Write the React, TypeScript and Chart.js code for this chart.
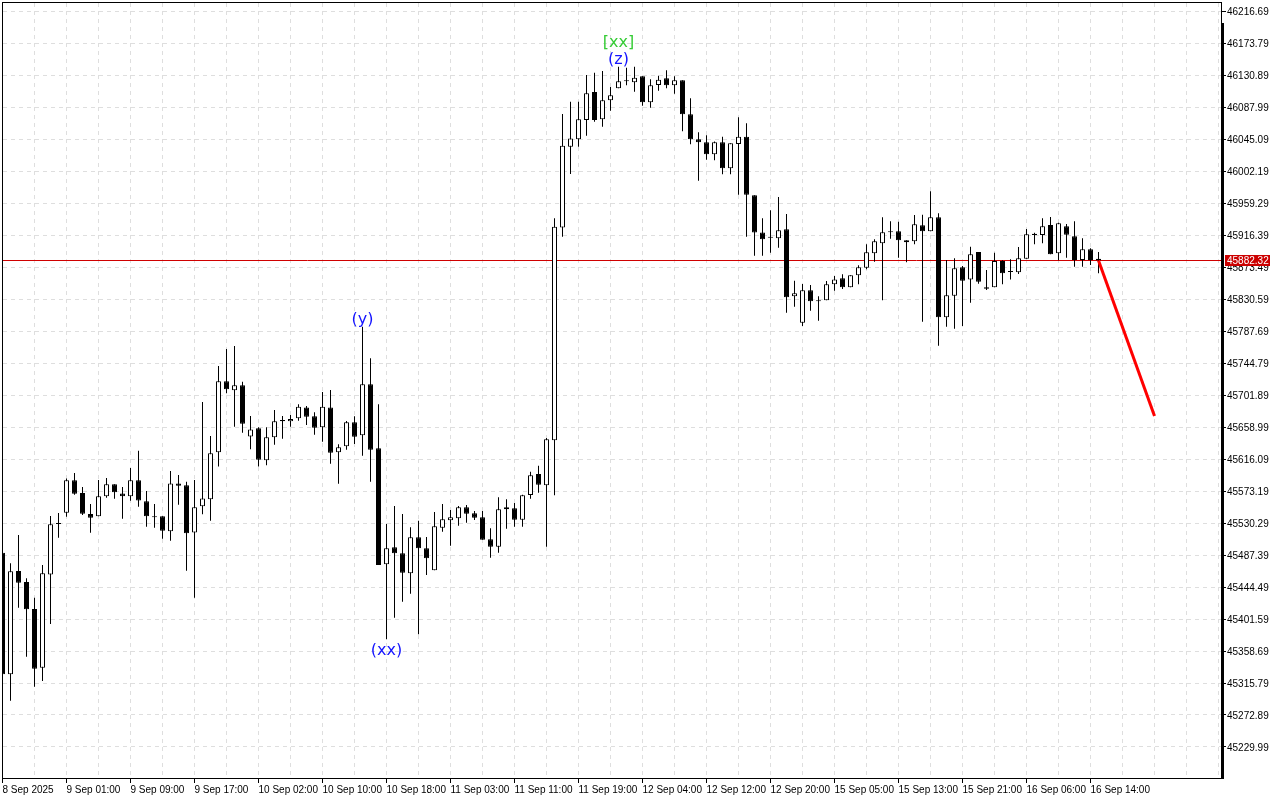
import React, { useEffect, useRef } from 'react';
import { Chart, registerables } from 'chart.js';

Chart.register(...registerables);

// ---- OHLC data (hourly candles, index 0 = 8 Sep 2025 17:00) ----
const opens = [
  45490.5, 45327.4, 45465.9, 45451.2, 45415.0, 45336.3, 45461.4, 45528.9, 45544.1, 45587.5,
  45570.5, 45542.3, 45539.2, 45566.0, 45582.1, 45570.0, 45566.0, 45587.5, 45559.3, 45537.9,
  45539.2, 45519.1, 45583.4, 45580.8, 45517.7, 45552.6, 45562.0, 45625.0, 45720.2, 45708.1,
  45714.8, 45646.4, 45657.2, 45614.3, 45645.1, 45668.4, 45666.6, 45670.6, 45685.3, 45673.3,
  45658.5, 45685.3, 45625.0, 45633.1, 45665.3, 45647.8, 45716.2, 45630.4, 45474.9, 45497.7,
  45489.6, 45462.8, 45511.1, 45496.3, 45466.8, 45524.0, 45533.9, 45536.5, 45551.3, 45543.3,
  45537.9, 45508.4, 45498.6, 45548.6, 45549.9, 45534.8, 45567.8, 45596.0, 45580.8, 45641.1,
  45926.6, 46034.8, 46044.6, 46070.6, 46108.1, 46071.5, 46096.9, 46113.0, 46123.7, 46121.1,
  46129.1, 46094.2, 46117.5, 46126.4, 46117.0, 46123.7, 46078.2, 46044.6, 46040.6, 46024.5,
  46040.6, 46005.8, 46038.4, 46048.2, 45969.6, 45919.9, 45912.8, 45911.9, 45924.0, 45834.2,
  45798.9, 45842.2, 45828.8, 45828.8, 45850.3, 45858.3, 45846.2, 45862.3, 45872.6, 45891.8,
  45905.2, 45920.0, 45921.3, 45909.2, 45907.9, 45929.3, 45921.3, 45940.1, 45806.0, 45835.1,
  45873.0, 45856.9, 45893.6, 45846.2, 45846.2, 45881.5, 45866.8, 45866.3, 45884.7, 45918.2,
  45916.4, 45929.8, 45891.8, 45928.0, 45914.6, 45882.9, 45897.2, 45884.7,
];

const highs = [
  45497.0, 45476.2, 45514.2, 45456.1, 45430.2, 45474.0, 45539.6, 45543.7, 45590.1, 45597.3,
  45578.5, 45555.7, 45587.9, 45590.6, 45582.1, 45578.5, 45604.0, 45627.2, 45573.2, 45555.7,
  45539.2, 45600.0, 45594.6, 45585.7, 45587.9, 45692.5, 45646.9, 45740.7, 45763.5, 45767.5,
  45719.7, 45673.7, 45658.5, 45658.5, 45681.7, 45673.7, 45675.1, 45689.4, 45687.1, 45678.6,
  45705.9, 45708.6, 45635.8, 45667.0, 45673.3, 45793.5, 45751.0, 45689.4, 45528.9, 45553.1,
  45542.4, 45524.5, 45533.4, 45511.5, 45545.0, 45555.8, 45547.7, 45553.1, 45554.4, 45546.4,
  45546.4, 45523.1, 45564.7, 45562.0, 45557.1, 45568.3, 45599.1, 45607.2, 45644.2, 45938.7,
  46078.6, 46095.1, 46095.1, 46130.9, 46134.0, 46136.2, 46114.8, 46142.1, 46140.7, 46142.1,
  46129.1, 46125.1, 46130.0, 46137.1, 46129.1, 46123.7, 46099.6, 46054.0, 46050.0, 46041.9,
  46048.2, 46039.3, 46074.1, 46066.1, 45969.6, 45938.7, 45949.5, 45967.3, 45944.5, 45855.2,
  45850.7, 45849.4, 45834.2, 45854.7, 45861.4, 45863.7, 45862.3, 45875.7, 45903.9, 45910.6,
  45940.1, 45934.7, 45934.3, 45909.2, 45943.2, 45943.7, 45974.9, 45945.4, 45882.9, 45885.1,
  45874.8, 45900.8, 45893.6, 45869.5, 45892.7, 45882.4, 45883.8, 45900.3, 45924.4, 45919.5,
  45938.7, 45940.5, 45932.9, 45931.1, 45934.7, 45911.9, 45898.5, 45893.6,
];

const lows = [
  45300.0, 45292.1, 45416.8, 45351.1, 45310.8, 45318.4, 45394.9, 45510.6, 45538.7, 45568.2,
  45541.0, 45517.3, 45539.2, 45564.2, 45562.9, 45536.1, 45560.2, 45552.2, 45525.3, 45524.0,
  45509.3, 45506.6, 45554.8, 45466.4, 45430.2, 45541.9, 45533.4, 45606.2, 45704.1, 45659.4,
  45651.4, 45629.0, 45606.2, 45607.6, 45635.3, 45643.3, 45659.4, 45667.5, 45661.7, 45648.7,
  45639.3, 45609.8, 45583.0, 45628.6, 45636.2, 45620.6, 45585.7, 45474.0, 45374.3, 45403.4,
  45424.8, 45435.6, 45381.0, 45460.6, 45466.8, 45518.7, 45499.9, 45526.7, 45530.7, 45534.3,
  45507.9, 45483.8, 45490.5, 45522.7, 45525.4, 45525.4, 45562.9, 45570.9, 45498.6, 45567.4,
  45914.1, 45998.2, 46034.8, 46049.6, 46068.3, 46061.6, 46083.1, 46113.0, 46117.0, 46108.5,
  46089.8, 46087.1, 46109.9, 46113.0, 46105.9, 46055.4, 46037.9, 45989.2, 46017.4, 46016.5,
  45997.7, 45997.7, 45970.5, 45914.1, 45888.7, 45888.7, 45892.7, 45899.4, 45812.3, 45820.3,
  45794.4, 45814.9, 45801.6, 45828.8, 45841.8, 45844.0, 45846.2, 45850.3, 45870.4, 45880.6,
  45828.8, 45911.5, 45886.0, 45879.8, 45903.9, 45800.2, 45921.3, 45768.0, 45793.5, 45790.8,
  45794.4, 45825.7, 45851.1, 45842.7, 45846.2, 45850.3, 45856.9, 45864.1, 45884.7, 45903.9,
  45905.2, 45890.5, 45882.4, 45886.0, 45873.9, 45873.9, 45876.2, 45865.0,
];

const closes = [
  45327.4, 45465.5, 45450.3, 45414.5, 45335.0, 45462.8, 45528.5, 45528.9, 45587.5, 45569.6,
  45542.8, 45537.4, 45566.0, 45582.1, 45571.4, 45566.0, 45587.5, 45560.6, 45539.2, 45537.9,
  45520.0, 45583.4, 45580.3, 45516.4, 45551.3, 45563.3, 45623.7, 45720.2, 45709.5, 45714.8,
  45663.4, 45655.8, 45615.2, 45645.1, 45666.6, 45666.6, 45669.7, 45686.3, 45672.8, 45658.1,
  45686.3, 45624.6, 45631.7, 45665.3, 45646.0, 45716.2, 45628.6, 45474.0, 45496.3, 45489.6,
  45463.7, 45511.1, 45496.3, 45482.9, 45525.8, 45535.2, 45537.9, 45551.3, 45542.8, 45537.4,
  45507.9, 45498.6, 45548.6, 45551.3, 45534.8, 45567.4, 45594.2, 45581.7, 45642.5, 45927.5,
  46036.1, 46045.9, 46071.5, 46106.3, 46070.6, 46096.9, 46103.6, 46122.4, 46122.4, 46127.3,
  46094.2, 46117.0, 46124.6, 46117.0, 46123.7, 46078.2, 46044.6, 46040.6, 46024.5, 46040.6,
  46005.8, 46039.3, 46048.2, 45970.5, 45919.9, 45910.6, 45912.8, 45922.6, 45832.8, 45838.2,
  45842.2, 45827.5, 45827.5, 45850.3, 45856.9, 45846.2, 45862.3, 45873.0, 45893.2, 45907.9,
  45920.0, 45920.0, 45909.2, 45906.6, 45930.7, 45921.3, 45940.1, 45806.0, 45835.5, 45871.7,
  45855.2, 45890.5, 45853.8, 45844.4, 45881.5, 45865.0, 45866.8, 45885.1, 45917.3, 45916.4,
  45928.0, 45890.5, 45932.0, 45916.8, 45882.9, 45897.2, 45882.9, 45882.32,
];

// x-axis labels, one every 8 candles starting at candle 0
const xTickLabels = [
  '8 Sep 2025', '9 Sep 01:00', '9 Sep 09:00', '9 Sep 17:00', '10 Sep 02:00', '10 Sep 10:00',
  '10 Sep 18:00', '11 Sep 03:00', '11 Sep 11:00', '11 Sep 19:00', '12 Sep 04:00', '12 Sep 12:00',
  '12 Sep 20:00', '15 Sep 05:00', '15 Sep 13:00', '15 Sep 21:00', '16 Sep 06:00', '16 Sep 14:00',
];

const yTickValues = [
  46216.69, 46173.79, 46130.89, 46087.99, 46045.09, 46002.19, 45959.29, 45916.39,
  45873.49, 45830.59, 45787.69, 45744.79, 45701.89, 45658.99, 45616.09, 45573.19,
  45530.29, 45487.39, 45444.49, 45401.59, 45358.69, 45315.79, 45272.89, 45229.99,
];

const lastPrice = 45882.32;

// forecast arrow (red)
const forecastX = [137, 144];
const forecastY = [45882.32, 45673.7];

// wave labels
const waveTexts = ['(y)', '(xx)', '[xx]', '(z)'];
const waveX = [45, 48, 77, 77];
const waveY = [45805.1, 45361.4, 46176.5, 46153.7];
const waveColors = ['#1414ff', '#1414ff', '#36cc36', '#1414ff'];

const X_MIN = 0.0625;
const X_MAX = 152.3125;
const Y_MIN = 45188.43;
const Y_MAX = 46227.42;

const FONT = '"Liberation Sans", Arial, sans-serif';
const GRID = '#dedede';

const decorPlugin = {
  id: 'mtDecor',
  beforeDatasetsDraw(chart: any) {
    const { ctx, chartArea, scales } = chart;
    const py = Math.round(scales.y.getPixelForValue(lastPrice)) + 0.5;
    ctx.save();
    ctx.strokeStyle = '#d00000';
    ctx.lineWidth = 1;
    ctx.beginPath();
    ctx.moveTo(chartArea.left, py);
    ctx.lineTo(chartArea.right, py);
    ctx.stroke();
    ctx.restore();
  },
  afterDraw(chart: any) {
    const { ctx, chartArea, scales } = chart;
    ctx.save();
    // frame
    ctx.strokeStyle = '#000';
    ctx.lineWidth = 1;
    ctx.strokeRect(chartArea.left - 0.5, chartArea.top - 0.5, chartArea.right - chartArea.left + 1, chartArea.bottom - chartArea.top + 1);
    // thick right scale border
    ctx.fillStyle = '#000';
    ctx.fillRect(chartArea.right, 23, 3, chartArea.bottom - 23 + 1);
    // current price box
    const pyr = Math.round(scales.y.getPixelForValue(lastPrice));
    ctx.fillStyle = '#cc0000';
    ctx.fillRect(chartArea.right + 4, pyr - 5, 45, 11);
    ctx.fillStyle = '#ffffff';
    ctx.font = '10px ' + FONT;
    ctx.textAlign = 'left';
    ctx.textBaseline = 'middle';
    ctx.fillText(lastPrice.toFixed(2), chartArea.right + 6, pyr + 1);
    // wave labels
    ctx.font = '16px "DejaVu Sans", sans-serif';
    ctx.textAlign = 'center';
    ctx.textBaseline = 'middle';
    for (let i = 0; i < waveTexts.length; i++) {
      ctx.fillStyle = waveColors[i];
      ctx.fillText(waveTexts[i], scales.x.getPixelForValue(waveX[i]), scales.y.getPixelForValue(waveY[i]) + 2);
    }
    ctx.restore();
  },
};

export default function App() {
  const ref = useRef<HTMLCanvasElement>(null);

  useEffect(() => {
    document.body.style.margin = '0';
    const canvas = ref.current;
    if (!canvas) return;

    const bodies = opens.map((o, i) => ({ x: i, y: [Math.min(o, closes[i]), Math.max(o, closes[i])] }));
    const wicks = lows.map((l, i) => ({ x: i, y: [l, highs[i]] }));
    const bodyColors = opens.map((o, i) => (closes[i] > o ? '#ffffff' : '#000000'));
    const forecast = forecastX.map((x, i) => ({ x, y: forecastY[i] }));

    const xGridValues: number[] = [];
    for (let v = 0; v <= 152; v += 4) xGridValues.push(v);
    const lastLabelled = (xTickLabels.length - 1) * 8;

    const chart = new Chart(canvas, {
      type: 'bar',
      data: {
        datasets: [
          {
            type: 'line',
            data: forecast as any,
            borderColor: '#ff0000',
            borderWidth: 3,
            pointRadius: 0,
            pointHoverRadius: 0,
            order: 0,
          } as any,
          {
            data: bodies as any,
            backgroundColor: bodyColors,
            borderColor: '#000000',
            borderWidth: 1,
            borderSkipped: false,
            barThickness: 5,
            grouped: false,
            minBarLength: 1,
            inflateAmount: 0,
            order: 1,
          } as any,
          {
            data: wicks as any,
            backgroundColor: '#000000',
            borderWidth: 0,
            barThickness: 1,
            grouped: false,
            inflateAmount: 0,
            order: 2,
          } as any,
        ],
      },
      options: {
        responsive: false,
        animation: false,
        events: [],
        layout: { padding: { left: 3, top: 3, right: 0, bottom: 0 }, autoPadding: false },
        plugins: { legend: { display: false }, tooltip: { enabled: false } },
        scales: {
          x: {
            type: 'linear',
            min: X_MIN,
            max: X_MAX,
            offset: false,
            bounds: 'data',
            grid: {
              offset: false,
              color: GRID,
              lineWidth: 1,
              drawTicks: true,
              tickLength: 5,
              tickWidth: 1,
              tickColor: (c: any) =>
                c.tick && c.tick.value % 8 === 0 && c.tick.value <= lastLabelled ? '#000000' : 'rgba(0,0,0,0)',
            },
            border: { display: false, dash: [4, 4] },
            ticks: {
              autoSkip: false,
              maxRotation: 0,
              minRotation: 0,
              align: 'start',
              padding: 1,
              color: '#000000',
              font: { family: FONT, size: 10 },
              callback: (v: any) => {
                const n = Number(v);
                return n % 8 === 0 ? xTickLabels[n / 8] ?? '' : '';
              },
            },
            afterBuildTicks: (s: any) => {
              s.ticks = xGridValues.map((v) => ({ value: v }));
            },
            afterFit: (s: any) => {
              s.height = 22;
              s.paddingLeft = 0;
              s.paddingRight = 0;
            },
          } as any,
          y: {
            type: 'linear',
            position: 'right',
            min: Y_MIN,
            max: Y_MAX,
            beginAtZero: false,
            bounds: 'data',
            grid: {
              color: GRID,
              lineWidth: 1,
              drawTicks: true,
              tickLength: 5,
              tickWidth: 1,
              tickColor: '#000000',
            },
            border: { display: false, dash: [4, 4] },
            ticks: {
              autoSkip: false,
              padding: 1,
              labelOffset: 1,
              color: '#000000',
              font: { family: FONT, size: 10 },
              callback: (v: any) => Number(v).toFixed(2),
            },
            afterBuildTicks: (s: any) => {
              s.ticks = yTickValues.map((v) => ({ value: v }));
            },
            afterFit: (s: any) => {
              s.width = 59;
              s.paddingTop = 0;
              s.paddingBottom = 0;
            },
          } as any,
        },
      },
      plugins: [decorPlugin],
    } as any);

    return () => chart.destroy();
  }, []);

  return (
    <div style={{ width: 1280, height: 800, background: '#ffffff' }}>
      <canvas ref={ref} width={1280} height={800} style={{ display: 'block', width: 1280, height: 800 }} />
    </div>
  );
}
